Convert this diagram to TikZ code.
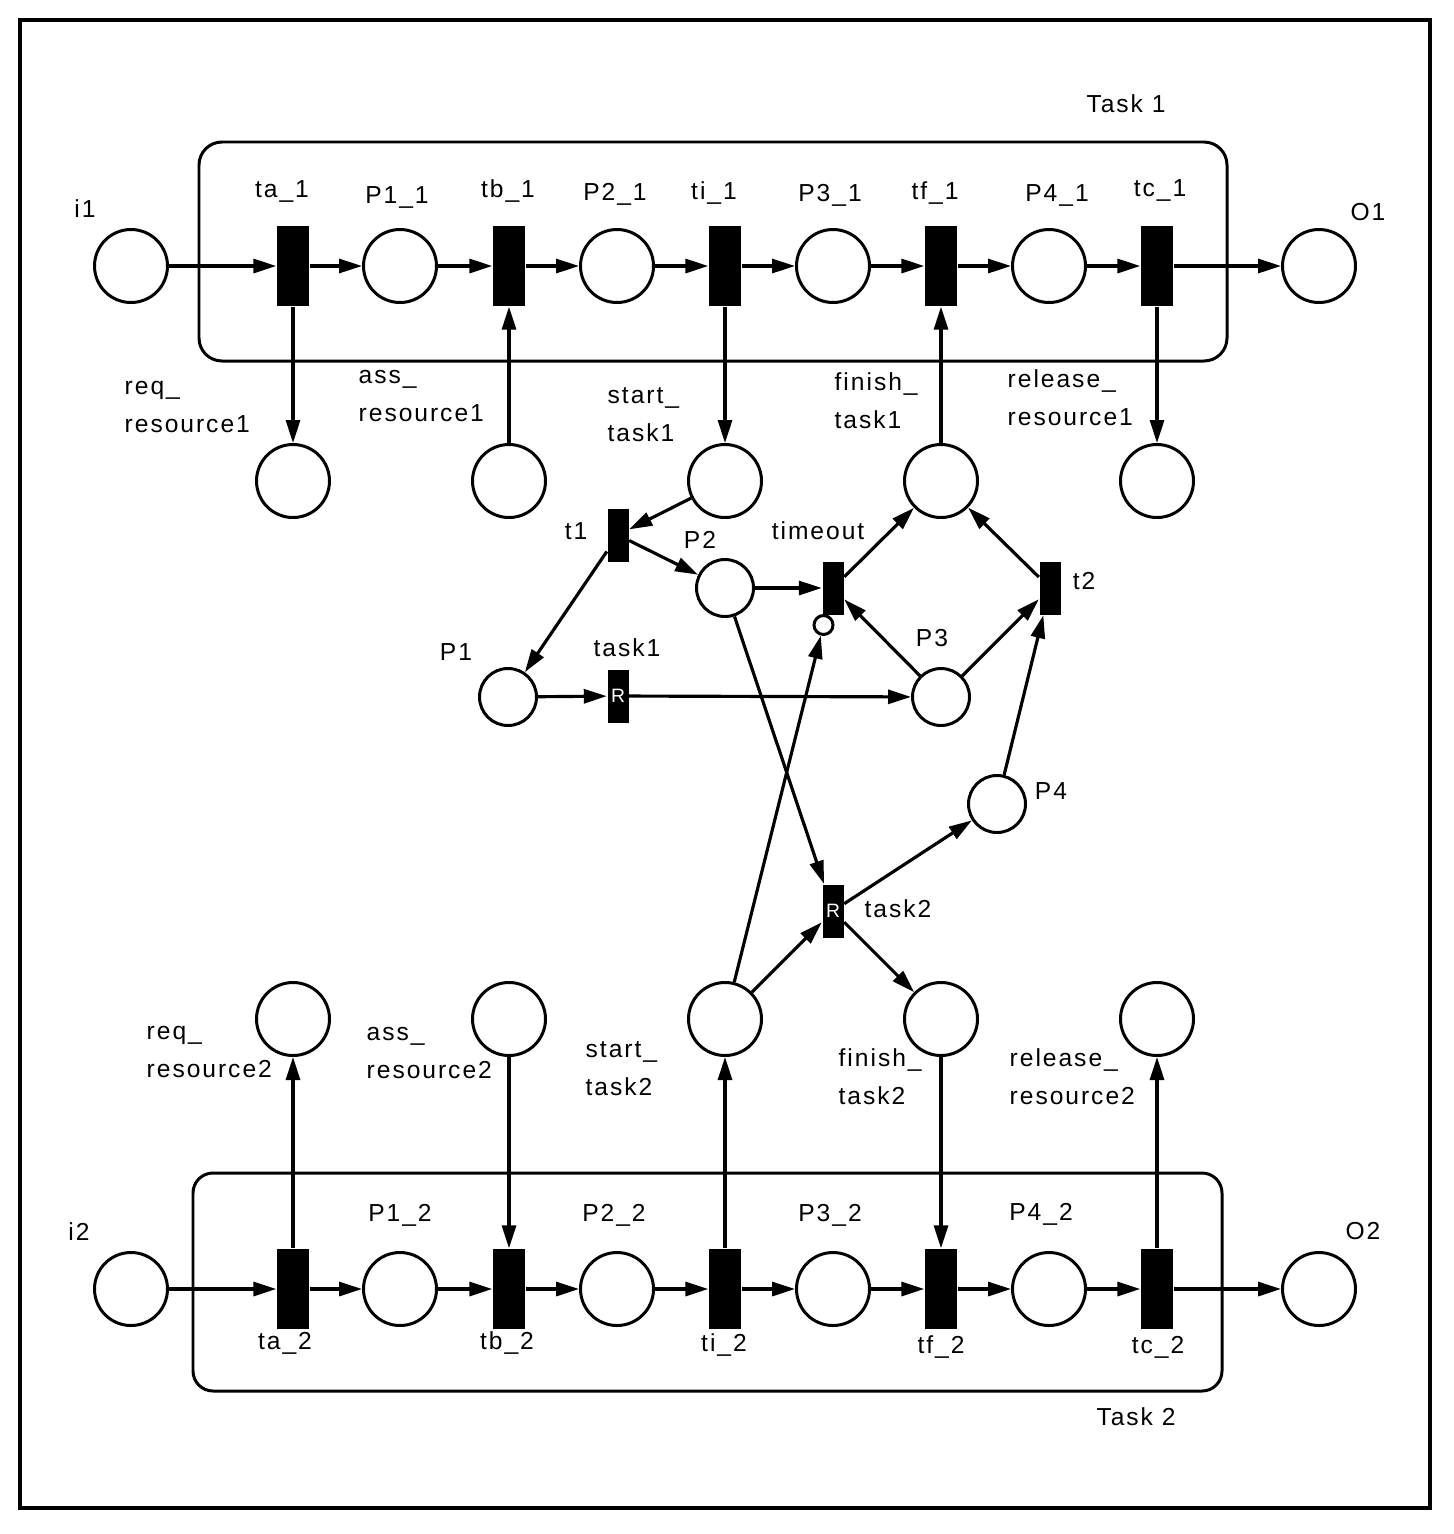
\documentclass[tikz,border=0pt]{standalone}
\usepackage{fontspec}
\setmainfont{Liberation Sans}[LetterSpace=8]
\usetikzlibrary{arrows.meta}

\newcommand{\lblfont}{\fontsize{7}{10.8}\selectfont}
\newcommand{\lbltwo}[2]{\strut#1\\\strut#2}

\begin{document}
\begin{tikzpicture}[x=0.1mm,y=-0.1mm,
    place/.style={circle,draw=black,line width=0.85pt,minimum size=7.3mm,inner sep=0pt},
    smallplace/.style={place,minimum size=5.7mm},
    trans/.style={rectangle,fill=black,minimum width=3.2mm,minimum height=8mm,inner sep=0pt},
    smalltrans/.style={trans,minimum width=2.1mm,minimum height=5.3mm},
    rtrans/.style={smalltrans,text=white,font=\fontsize{5.5}{6}\selectfont},
    flow/.style={-{Triangle[length=2.3mm,width=1.4mm]},line width=0.9pt},
    lbl/.style={font=\lblfont,inner sep=0pt},
    lbltop/.style={lbl,anchor=north west,align=left}]
    \useasboundingbox (0,0) rectangle (1453,1534);
    \draw[line width=1.2pt] (20,20) rectangle (1430,1508);
    % task boxes
    \draw[line width=0.85pt,rounded corners=2.3mm] (199,142) rectangle (1227,361);
    \draw[line width=0.85pt,rounded corners=2mm] (193,1173) rectangle (1222,1391);
    \node[lbl] (ltask1) at (1126,104) {Task 1};
    \node[lbl] (ltask2) at (1136,1417) {Task 2};

    % task 1 row
    \node[place] (i1) at (131,266) {};
    \node[trans] (ta1) at (293,266) {};
    \node[place] (P11) at (400,266) {};
    \node[trans] (tb1) at (509,266) {};
    \node[place] (P21) at (617,266) {};
    \node[trans] (ti1) at (725,266) {};
    \node[place] (P31) at (833,266) {};
    \node[trans] (tf1) at (941,266) {};
    \node[place] (P41) at (1049,266) {};
    \node[trans] (tc1) at (1157,266) {};
    \node[place] (O1) at (1319,266) {};
    \node[lbl] (li1) at (85,209) {i1};
    \node[lbl] (lta1) at (282,191) {ta\_1};
    \node[lbl] (lP11) at (397,197) {P1\_1};
    \node[lbl] (ltb1) at (508,191) {tb\_1};
    \node[lbl] (lP21) at (615,194) {P2\_1};
    \node[lbl] (lti1) at (714,193) {ti\_1};
    \node[lbl] (lP31) at (830,195) {P3\_1};
    \node[lbl] (ltf1) at (935,193) {tf\_1};
    \node[lbl] (lP41) at (1057,195) {P4\_1};
    \node[lbl] (ltc1) at (1160,190) {tc\_1};
    \node[lbl] (lO1) at (1368,212) {O1};

    % resource places of task 1
    \node[place] (rq1) at (293,481) {};
    \node[place] (as1) at (509,481) {};
    \node[place] (st1) at (725,481) {};
    \node[place] (fn1) at (941,481) {};
    \node[place] (rl1) at (1157,481) {};
    \node[lbltop] (lrq1) at (124,367) {\lbltwo{req\_}{resource1}};
    \node[lbltop] (las1) at (358,356) {\lbltwo{ass\_}{resource1}};
    \node[lbltop] (lst1) at (607,376) {\lbltwo{start\_}{task1}};
    \node[lbltop] (lfn1) at (834,363) {\lbltwo{finish\_}{task1}};
    \node[lbltop] (lrl1) at (1007,360) {\lbltwo{release\_}{resource1}};

    % middle net
    \node[smalltrans] (t1) at (618,535) {};
    \node[smallplace] (P2) at (725,588) {};
    \node[smalltrans] (timeout) at (833,588) {};
    \node[smalltrans] (t2) at (1050,588) {};
    \node[smallplace] (P1) at (508,697) {};
    \node[rtrans] (task1) at (618,696) {R};
    \node[smallplace] (P3) at (941,697) {};
    \node[smallplace] (P4) at (997,804) {};
    \node[rtrans] (task2) at (833,911) {R};
    \node[circle,draw=black,line width=0.85pt,minimum size=1.9mm,inner sep=0pt] (inhib) at (823.5,625) {};
    \node[lbl] (lt1) at (576,531) {t1};
    \node[lbl] (lP2) at (700,540) {P2};
    \node[lbl] (ltimeout) at (818,531) {timeout};
    \node[lbl] (lt2) at (1084,581) {t2};
    \node[lbl] (lP1) at (456,652) {P1};
    \node[lbl] (ltask1r) at (627,648) {task1};
    \node[lbl] (lP3) at (932,638) {P3};
    \node[lbl] (lP4) at (1051,791) {P4};
    \node[lbl] (ltask2r) at (898,909) {task2};

    % resource places of task 2
    \node[place] (rq2) at (293,1019) {};
    \node[place] (as2) at (509,1019) {};
    \node[place] (st2) at (725,1019) {};
    \node[place] (fn2) at (941,1019) {};
    \node[place] (rl2) at (1157,1019) {};
    \node[lbltop] (lrq2) at (146,1012) {\lbltwo{req\_}{resource2}};
    \node[lbltop] (las2) at (366,1013) {\lbltwo{ass\_}{resource2}};
    \node[lbltop] (lst2) at (585,1030) {\lbltwo{start\_}{task2}};
    \node[lbltop] (lfn2) at (838,1039) {\lbltwo{finish\_}{task2}};
    \node[lbltop] (lrl2) at (1009,1039) {\lbltwo{release\_}{resource2}};

    % task 2 row
    \node[place] (i2) at (131,1289) {};
    \node[trans] (ta2) at (293,1289) {};
    \node[place] (P12) at (400,1289) {};
    \node[trans] (tb2) at (509,1289) {};
    \node[place] (P22) at (617,1289) {};
    \node[trans] (ti2) at (725,1289) {};
    \node[place] (P32) at (833,1289) {};
    \node[trans] (tf2) at (941,1289) {};
    \node[place] (P42) at (1049,1289) {};
    \node[trans] (tc2) at (1157,1289) {};
    \node[place] (O2) at (1319,1289) {};
    \node[lbl] (li2) at (79,1232) {i2};
    \node[lbl] (lP12) at (400,1215) {P1\_2};
    \node[lbl] (lP22) at (614,1215) {P2\_2};
    \node[lbl] (lP32) at (830,1215) {P3\_2};
    \node[lbl] (lP42) at (1041,1214) {P4\_2};
    \node[lbl] (lta2) at (285,1343) {ta\_2};
    \node[lbl] (ltb2) at (507,1343) {tb\_2};
    \node[lbl] (lti2) at (724,1345) {ti\_2};
    \node[lbl] (ltf2) at (941,1347) {tf\_2};
    \node[lbl] (ltc2) at (1158,1347) {tc\_2};
    \node[lbl] (lO2) at (1363,1231) {O2};

    % arcs task 1
    \draw[flow] (i1) -- (ta1);
    \draw[flow] (ta1) -- (P11);
    \draw[flow] (P11) -- (tb1);
    \draw[flow] (tb1) -- (P21);
    \draw[flow] (P21) -- (ti1);
    \draw[flow] (ti1) -- (P31);
    \draw[flow] (P31) -- (tf1);
    \draw[flow] (tf1) -- (P41);
    \draw[flow] (P41) -- (tc1);
    \draw[flow] (tc1) -- (O1);
    \draw[flow] (ta1) -- (rq1);
    \draw[flow] (as1) -- (tb1);
    \draw[flow] (ti1) -- (st1);
    \draw[flow] (fn1) -- (tf1);
    \draw[flow] (tc1) -- (rl1);

    % arcs middle
    \draw[flow] (st1) -- (t1);
    \draw[flow] (t1) -- (P2);
    \draw[flow] (t1) -- (P1);
    \draw[flow] (P1) -- (task1);
    \draw[flow] (task1) -- (P3);
    \draw[flow] (P2) -- (timeout);
    \draw[flow] (timeout) -- (fn1);
    \draw[flow] (P3) -- (timeout);
    \draw[flow] (P3) -- (t2);
    \draw[flow] (t2) -- (fn1);
    \draw[flow] (P4) -- (t2);
    \draw[flow] (P2) -- (task2);
    \draw[flow] (task2) -- (P4);
    \draw[flow] (task2) -- (fn2);
    \draw[flow] (st2) -- (task2);
    \draw[flow] (st2) -- (inhib);

    % arcs task 2
    \draw[flow] (i2) -- (ta2);
    \draw[flow] (ta2) -- (P12);
    \draw[flow] (P12) -- (tb2);
    \draw[flow] (tb2) -- (P22);
    \draw[flow] (P22) -- (ti2);
    \draw[flow] (ti2) -- (P32);
    \draw[flow] (P32) -- (tf2);
    \draw[flow] (tf2) -- (P42);
    \draw[flow] (P42) -- (tc2);
    \draw[flow] (tc2) -- (O2);
    \draw[flow] (ta2) -- (rq2);
    \draw[flow] (as2) -- (tb2);
    \draw[flow] (ti2) -- (st2);
    \draw[flow] (fn2) -- (tf2);
    \draw[flow] (tc2) -- (rl2);
\end{tikzpicture}
\end{document}
